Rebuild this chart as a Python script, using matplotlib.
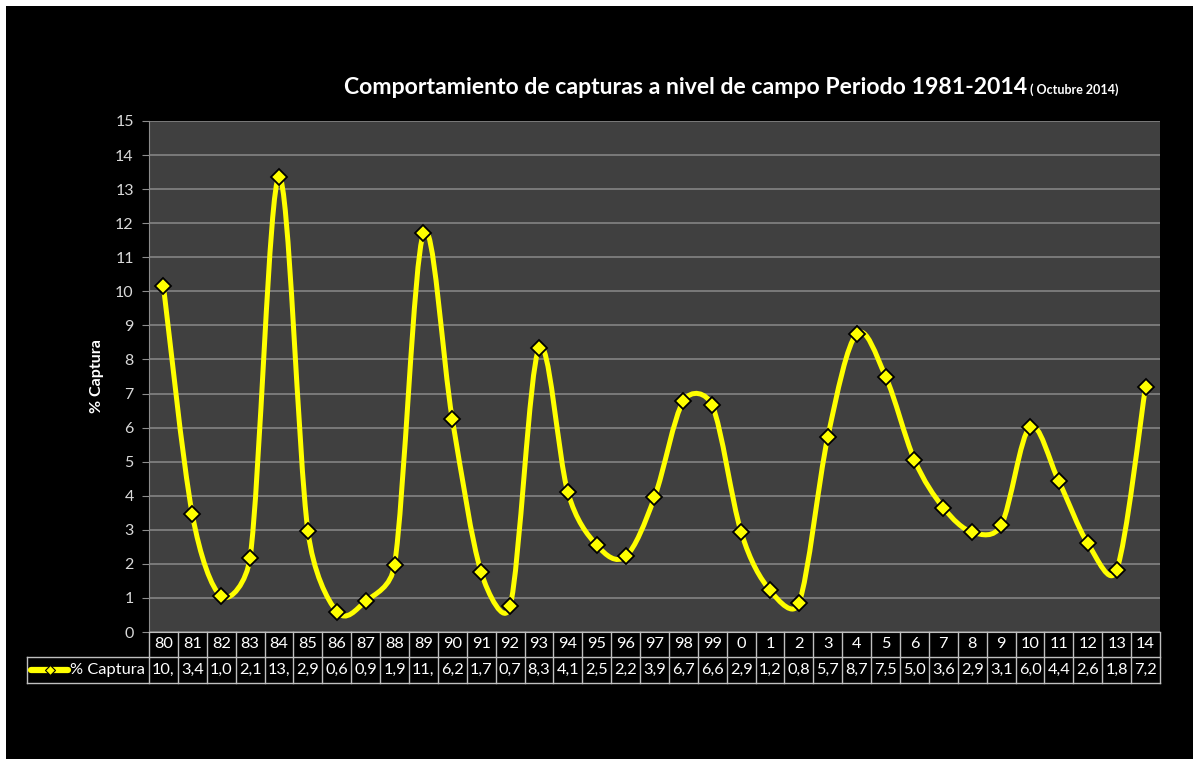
import matplotlib.pyplot as plt
from matplotlib.path import Path
from matplotlib.patches import PathPatch, Rectangle
from matplotlib.lines import Line2D
import matplotlib.transforms as mtransforms
import math

plt.rcParams['font.family'] = ['Lato', 'DejaVu Sans']

years = ['80', '81', '82', '83', '84', '85', '86', '87', '88', '89', '90', '91',
         '92', '93', '94', '95', '96', '97', '98', '99', '0', '1', '2', '3', '4',
         '5', '6', '7', '8', '9', '10', '11', '12', '13', '14']
captura = [10.15, 3.45, 1.05, 2.18, 13.35, 2.97, 0.6, 0.9, 1.97, 11.7, 6.25,
           1.75, 0.75, 8.33, 4.1, 2.55, 2.22, 3.95, 6.78, 6.65, 2.93, 1.22,
           0.85, 5.73, 8.75, 7.5, 5.05, 3.65, 2.93, 3.13, 6.02, 4.42, 2.6,
           1.82, 7.2]
yticks = list(range(0, 16))

W, H = 1198, 759
fig = plt.figure(figsize=(W / 100, H / 100), dpi=100, facecolor='white')
# black chart area inside thin white border
fig.patches.append(Rectangle((6 / W, 0), (1193 - 6) / W, (H - 6) / H,
                             transform=fig.transFigure, facecolor='black',
                             edgecolor='none', zorder=-10))

left, right, top, bottom = 149, 1160, 121, 632
ax = fig.add_axes([left / W, 1 - bottom / H, (right - left) / W, (bottom - top) / H])
ax.set_facecolor('#404040')

n = len(captura)
xs = list(range(n))
ax.set_xlim(-0.5, n - 0.5)
ax.set_ylim(0, 15)
ax.set_yticks(yticks)
ax.set_yticklabels([str(t) for t in yticks], color='#d9d9d9', fontsize=11.5)
ax.tick_params(axis='y', length=5, color='#8c8c8c', pad=6)
ax.set_xticks([])
ax.grid(axis='y', color='#8a8a8a', lw=1.1)
ax.set_axisbelow(True)
for s in ['top', 'right']:
    ax.spines[s].set_visible(False)
ax.spines['left'].set_color('#8c8c8c')
ax.spines['bottom'].set_color('#bfbfbf')

ax.set_ylabel('% Captura', color='white', fontsize=11.5, fontweight='bold', labelpad=8)

# smoothed line, Excel style bezier (tangents worked out in pixel units)
sx = (right - left) / n
sy = (bottom - top) / 15.0
pts = [(x * sx, y * sy) for x, y in zip(xs, captura)]


def tangent(i):
    a = pts[max(i - 1, 0)]
    b = pts[min(i + 1, n - 1)]
    return ((b[0] - a[0]) / 6, (b[1] - a[1]) / 6)


verts = [(xs[0], captura[0])]
codes = [Path.MOVETO]
for i in range(n - 1):
    p1, p2 = pts[i], pts[i + 1]
    half = math.hypot(p2[0] - p1[0], p2[1] - p1[1]) / 2
    t1, t2 = tangent(i), tangent(i + 1)
    k1 = min(1.0, half / max(math.hypot(*t1), 1e-9))
    k2 = min(1.0, half / max(math.hypot(*t2), 1e-9))
    c1 = (p1[0] + t1[0] * k1, p1[1] + t1[1] * k1)
    c2 = (p2[0] - t2[0] * k2, p2[1] - t2[1] * k2)
    for c in (c1, c2, p2):
        verts.append((c[0] / sx, c[1] / sy))
    codes += [Path.CURVE4] * 3
ax.add_patch(PathPatch(Path(verts, codes), fill=False, edgecolor='#ffff00',
                       lw=3.6, capstyle='round', joinstyle='round', zorder=3))
ax.plot(xs, captura, ls='none', marker='D', ms=8, mfc='#ffff00', mec='black',
        mew=1.3, zorder=4, clip_on=False)

# title
fig.text(344 / W, 1 - 88 / H, 'Comportamiento de capturas a nivel de campo Periodo 1981-2014',
         color='white', fontsize=16.6, fontweight='bold', va='center', ha='left')
fig.text(1030 / W, 1 - 90 / H, '( Octubre 2014)', color='white', fontsize=9,
         fontweight='bold', va='center', ha='left')

# data table under the axis
tr = mtransforms.blended_transform_factory(ax.transData, fig.transFigure)
ftr = fig.transFigure
row1_top, row1_bot, row2_bot = 632, 657, 683
gc = '#bfbfbf'


def fy(py):
    return 1 - py / H


for i in range(n + 1):
    ax.add_line(Line2D([i - 0.5, i - 0.5], [fy(row1_top), fy(row2_bot)], transform=tr,
                       color=gc, lw=1, clip_on=False))
for py in [row1_bot, row2_bot]:
    fig.add_artist(Line2D([27 / W, right / W], [fy(py), fy(py)], transform=ftr, color=gc, lw=1))
fig.add_artist(Line2D([27 / W, 27 / W], [fy(row1_bot), fy(row2_bot)], transform=ftr, color=gc, lw=1))

for i, (yr, v) in enumerate(zip(years, captura)):
    ax.text(i, fy((row1_top + row1_bot) / 2), yr, transform=tr, color='white',
            fontsize=11.8, ha='center', va='center', clip_on=False)
    # narrow cells cut the value after three characters
    lab = ('%.2f' % v).replace('.', ',')[:3]
    ax.text(i, fy((row1_bot + row2_bot) / 2), lab, transform=tr, color='white',
            fontsize=11.8, ha='center', va='center', clip_on=False)

ymid = fy((row1_bot + row2_bot) / 2)
fig.add_artist(Line2D([31 / W, 68 / W], [ymid, ymid], transform=ftr, color='#ffff00',
                      lw=4.5, solid_capstyle='round'))
fig.add_artist(Line2D([49.5 / W], [ymid], transform=ftr, marker='D', ms=5,
                      mfc='#ffff00', mec='black', mew=0.8, ls='none'))
fig.text(70 / W, ymid, '% Captura', color='white', fontsize=11.8, ha='left', va='center')

fig.savefig('out.png', dpi=100, facecolor='white')
